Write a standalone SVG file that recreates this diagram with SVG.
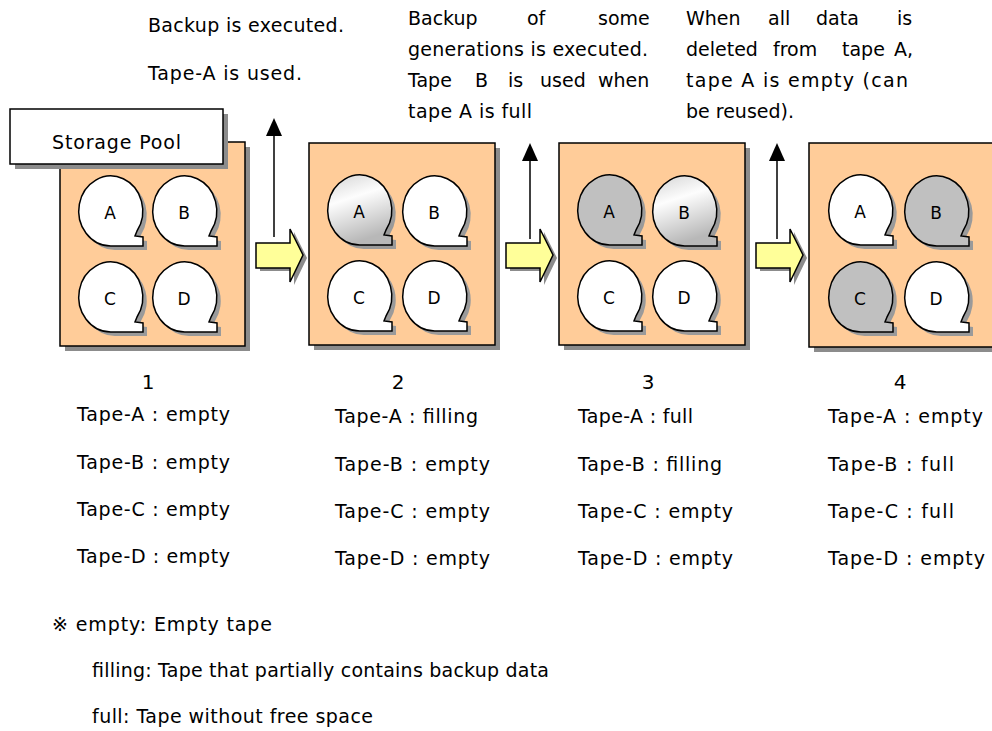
<svg xmlns="http://www.w3.org/2000/svg" width="992" height="731" viewBox="0 0 992 731">
<style>
text{font-family:"DejaVu Sans","Liberation Sans",Arial,sans-serif;fill:#000;font-size:19px}
.pool{fill:#ffcc99;stroke:#000;stroke-width:1.5}
.shadow{fill:#8c8c8c}
.lbl{fill:#fff;stroke:#000;stroke-width:1.5}
.tw{fill:#fff;stroke:#000;stroke-width:1.5}
.tg{fill:#c0c0c0;stroke:#000;stroke-width:1.5}
.tf{fill:url(#fillgrad);stroke:#000;stroke-width:1.5}
.ts{fill:#9a9a9a}
.big{fill:#ffff99;stroke:#000;stroke-width:1.5}
.up{stroke:#000;stroke-width:1.5;fill:none}
.head{fill:#000}
.tl{font-size:17px;text-anchor:middle}
.num{text-anchor:middle;font-size:20px}
</style>
<defs>
<linearGradient id="fillgrad" x1="0" y1="0" x2="0.3" y2="1">
<stop offset="0" stop-color="#d4d4d4"/>
<stop offset="0.4" stop-color="#fdfdfd"/>
<stop offset="1" stop-color="#b8b8b8"/>
</linearGradient>
<path id="tape" d="M31,70 A32,35 0 1 1 57,55 L55,60 L63,61 L63,70 Z"/>
<path id="bigarrow" d="M0,14 L34,14 L34,0 L47,26 L34,53 L34,39 L0,39 Z"/>
</defs>

<g id="captions">
<text x="148" y="32" textLength="196">Backup is executed.</text>
<text x="148" y="80" textLength="154">Tape-A is used.</text>
<text y="25"><tspan x="408">Backup</tspan><tspan x="527">of</tspan><tspan x="598">some</tspan></text>
<text x="408" y="56" textLength="240">generations is executed.</text>
<text y="87"><tspan x="408">Tape</tspan><tspan x="475">B</tspan><tspan x="508">is</tspan><tspan x="540">used</tspan><tspan x="598">when</tspan></text>
<text x="408" y="118" textLength="124">tape A is full</text>
<text y="25"><tspan x="686">When</tspan><tspan x="768">all</tspan><tspan x="816">data</tspan><tspan x="897">is</tspan></text>
<text y="56"><tspan x="686">deleted</tspan><tspan x="773">from</tspan><tspan x="842">tape</tspan><tspan x="894">A,</tspan></text>
<text x="686" y="87" textLength="222">tape A is empty (can</text>
<text x="686" y="118">be reused).</text>
</g>

<g id="connectors">
<use href="#bigarrow" x="260" y="232" class="shadow"/>
<use href="#bigarrow" x="256" y="229" class="big"/>
<use href="#bigarrow" x="510" y="232" class="shadow"/>
<use href="#bigarrow" x="506" y="229" class="big"/>
<use href="#bigarrow" x="760" y="232" class="shadow"/>
<use href="#bigarrow" x="756" y="229" class="big"/>
<line class="up" x1="274" y1="237" x2="274" y2="134"/>
<polygon class="head" points="274,118 282,136 266,136"/>
<line class="up" x1="530" y1="239" x2="530" y2="159"/>
<polygon class="head" points="530,143 538,161 522,161"/>
<line class="up" x1="777" y1="239" x2="777" y2="159"/>
<polygon class="head" points="777,143 785,161 769,161"/>
</g>

<g id="pool1">
<rect x="65" y="147" width="185" height="204" class="shadow"/>
<rect x="60" y="142" width="185" height="204" class="pool"/>
<g transform="translate(80,176)"><use href="#tape" x="4" y="4" class="ts"/><use href="#tape" class="tw"/><text class="tl" x="30" y="43">A</text></g>
<g transform="translate(154,176)"><use href="#tape" x="4" y="4" class="ts"/><use href="#tape" class="tw"/><text class="tl" x="30" y="43">B</text></g>
<g transform="translate(80,262)"><use href="#tape" x="4" y="4" class="ts"/><use href="#tape" class="tw"/><text class="tl" x="30" y="43">C</text></g>
<g transform="translate(154,262)"><use href="#tape" x="4" y="4" class="ts"/><use href="#tape" class="tw"/><text class="tl" x="30" y="43">D</text></g>
</g>

<g id="storage-pool-label">
<rect x="15" y="114" width="213" height="55" class="shadow"/>
<rect x="10" y="109" width="213" height="55" class="lbl"/>
<text x="52" y="149" textLength="129">Storage Pool</text>
</g>

<g id="pool2">
<rect x="314" y="148" width="186" height="202" class="shadow"/>
<rect x="309" y="143" width="186" height="202" class="pool"/>
<g transform="translate(329,175)"><use href="#tape" x="4" y="4" class="ts"/><use href="#tape" class="tf"/><text class="tl" x="30" y="43">A</text></g>
<g transform="translate(404,176)"><use href="#tape" x="4" y="4" class="ts"/><use href="#tape" class="tw"/><text class="tl" x="30" y="43">B</text></g>
<g transform="translate(329,261)"><use href="#tape" x="4" y="4" class="ts"/><use href="#tape" class="tw"/><text class="tl" x="30" y="43">C</text></g>
<g transform="translate(404,261)"><use href="#tape" x="4" y="4" class="ts"/><use href="#tape" class="tw"/><text class="tl" x="30" y="43">D</text></g>
</g>

<g id="pool3">
<rect x="564" y="148" width="186" height="202" class="shadow"/>
<rect x="559" y="143" width="186" height="202" class="pool"/>
<g transform="translate(579,175)"><use href="#tape" x="4" y="4" class="ts"/><use href="#tape" class="tg"/><text class="tl" x="30" y="43">A</text></g>
<g transform="translate(654,176)"><use href="#tape" x="4" y="4" class="ts"/><use href="#tape" class="tf"/><text class="tl" x="30" y="43">B</text></g>
<g transform="translate(579,261)"><use href="#tape" x="4" y="4" class="ts"/><use href="#tape" class="tw"/><text class="tl" x="30" y="43">C</text></g>
<g transform="translate(654,261)"><use href="#tape" x="4" y="4" class="ts"/><use href="#tape" class="tw"/><text class="tl" x="30" y="43">D</text></g>
</g>

<g id="pool4">
<rect x="814" y="148" width="190" height="204" class="shadow"/>
<rect x="809" y="143" width="190" height="204" class="pool"/>
<g transform="translate(830,175)"><use href="#tape" x="4" y="4" class="ts"/><use href="#tape" class="tw"/><text class="tl" x="30" y="43">A</text></g>
<g transform="translate(906,176)"><use href="#tape" x="4" y="4" class="ts"/><use href="#tape" class="tg"/><text class="tl" x="30" y="43">B</text></g>
<g transform="translate(830,262)"><use href="#tape" x="4" y="4" class="ts"/><use href="#tape" class="tg"/><text class="tl" x="30" y="43">C</text></g>
<g transform="translate(906,262)"><use href="#tape" x="4" y="4" class="ts"/><use href="#tape" class="tw"/><text class="tl" x="30" y="43">D</text></g>
</g>

<g id="status1">
<text class="num" x="148" y="389">1</text>
<text x="77" y="421" textLength="153">Tape-A : empty</text>
<text x="77" y="469" textLength="153">Tape-B : empty</text>
<text x="77" y="516" textLength="153">Tape-C : empty</text>
<text x="77" y="563" textLength="153">Tape-D : empty</text>
</g>
<g id="status2">
<text class="num" x="398" y="389">2</text>
<text x="335" y="423" textLength="143">Tape-A : filling</text>
<text x="335" y="471" textLength="155">Tape-B : empty</text>
<text x="335" y="518" textLength="155">Tape-C : empty</text>
<text x="335" y="565" textLength="155">Tape-D : empty</text>
</g>
<g id="status3">
<text class="num" x="648" y="389">3</text>
<text x="578" y="423" textLength="115">Tape-A : full</text>
<text x="578" y="471" textLength="144">Tape-B : filling</text>
<text x="578" y="518" textLength="155">Tape-C : empty</text>
<text x="578" y="565" textLength="155">Tape-D : empty</text>
</g>
<g id="status4">
<text class="num" x="900" y="389">4</text>
<text x="828" y="423" textLength="155">Tape-A : empty</text>
<text x="828" y="471" textLength="126">Tape-B : full</text>
<text x="828" y="518" textLength="126">Tape-C : full</text>
<text x="828" y="565" textLength="157">Tape-D : empty</text>
</g>

<g id="legend">
<text x="52" y="631" textLength="220">※  empty: Empty tape</text>
<text x="92" y="677" textLength="457">filling: Tape that partially contains backup data</text>
<text x="92" y="723" textLength="281">full: Tape without free space</text>
</g>
</svg>
